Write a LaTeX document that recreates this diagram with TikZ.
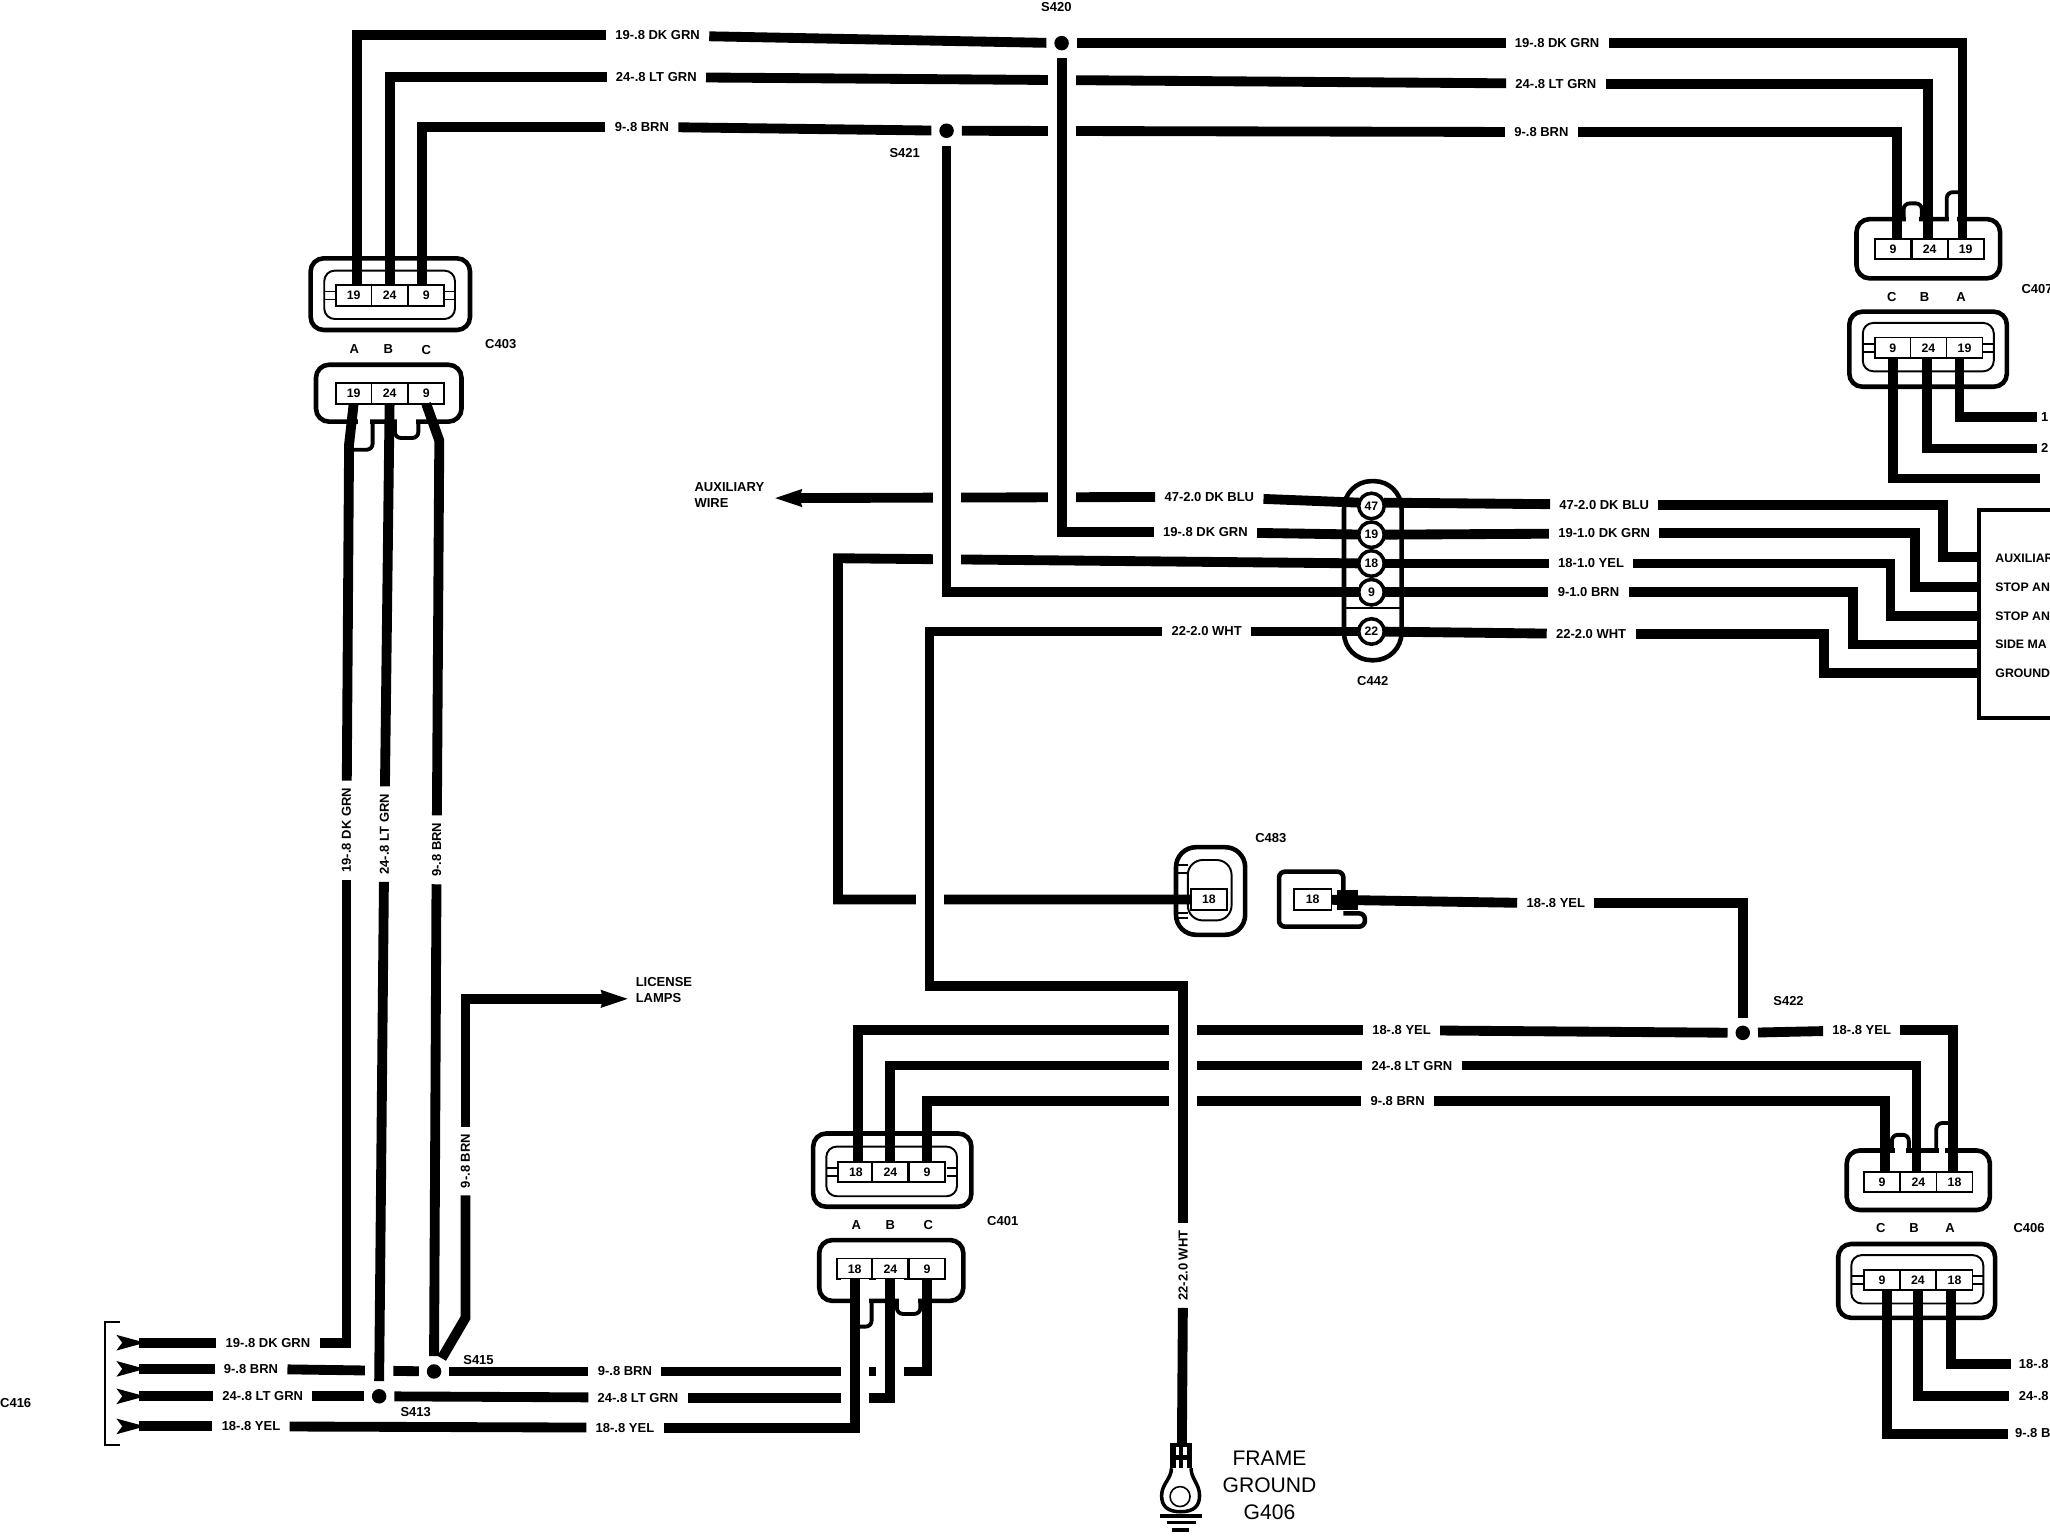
\documentclass[tikz,border=0pt]{standalone}
\usepackage{fontspec}
\setmainfont{Liberation Sans}
\usetikzlibrary{arrows.meta,positioning}
\newcommand{\labfont}{\fontsize{7.4}{9}\selectfont\bfseries}
\tikzset{
  wire/.style={line width=5.6pt},
  wirecross/.style={preaction={draw=white,line width=16pt}},
  wlabel/.style={font=\labfont,inner xsep=1.8mm,inner ysep=0.6mm},
  wlabelv/.style={wlabel,rotate=90,inner xsep=1.4mm},
  tagtext/.style={font=\labfont,inner sep=0pt},
  pincell/.style={draw,fill=white,line width=1pt,minimum width=7.2mm,minimum height=4.1mm,inner sep=0pt,outer sep=0pt,font=\fontsize{7}{8}\selectfont\bfseries},
  pinround/.style={circle,draw,fill=white,line width=2pt,minimum size=5.1mm,inner sep=0pt,outer sep=0pt,font=\fontsize{7}{8}\selectfont\bfseries},
  splice/.style={circle,fill=black,minimum size=2.9mm,inner sep=0pt,outer sep=1.6mm},
  shell/.style={line width=2.6pt,rounded corners=2.6mm},
  innershell/.style={line width=1.1pt,rounded corners=2.1mm},
  latch/.style={line width=2.2pt,rounded corners=1.2mm},
  leadhead/.style={-{Stealth[length=5.4mm,width=3.2mm,inset=0.3mm]}}
}
\begin{document}
\begin{tikzpicture}[x=0.26148mm,y=-0.26148mm]
\useasboundingbox (0,0) rectangle (1568,1174.85);

% pin cells of the three way connectors
\foreach \conn/\yy/\xa/\xb/\xc/\va/\vc in {c403u/226/270.5/298/326/19/9,c403l/301/270.5/298/326/19/9,
  c401u/896.5/654.7/681/709/18/9,c401l/970.5/653.7/681/709/18/9,
  c407u/190.5/1448/1476/1503.5/9/19,c407l/266/1447.7/1475/1502.6/9/19,
  c406u/904/1439.6/1467.4/1495/9/18,c406l/979/1439.6/1467/1495/9/18}{
  \foreach \n/\x/\v in {l/\xa/\va,m/\xb/24,r/\xc/\vc}{
    \node[pincell] (\conn-\n) at (\x,\yy) {\v};
  }
}
\foreach \n/\yy/\v in {47/387/47,19/409/19,18/431/18,9/453/9,22/483/22}{
  \node[pinround] (p\n) at (1049,\yy) {\v};
}
\node[pincell,minimum width=7.3mm] (c483a) at (924.7,688) {18};
\node[pincell,minimum width=7.5mm] (c483b) at (1004,688) {18};

% splices
\node[splice] (s420) at (812,33) {};
\node[splice] (s421) at (724,100) {};
\node[splice] (s422) at (1333,790) {};
\node[splice] (s413) at (290,1068) {};
\node[splice] (s415) at (332,1049) {};
\node[tagtext] (t420) at (808,5) {S420};
\node[tagtext] (t421) at (692,117) {S421};
\node[tagtext] (t422) at (1368,766) {S422};
\node[tagtext] (t413) at (318,1080) {S413};
\node[tagtext] (t415) at (366,1040) {S415};

% wire labels
\node[wlabel] (dkgTL) at (503,27) {19-.8 DK GRN};
\node[wlabel] (ltgTL) at (502,59) {24-.8 LT GRN};
\node[wlabel] (brnTL) at (491,97) {9-.8 BRN};
\node[wlabel] (dkgTR) at (1191,33) {19-.8 DK GRN};
\node[wlabel] (ltgTR) at (1190,64) {24-.8 LT GRN};
\node[wlabel] (brnTR) at (1179,101) {9-.8 BRN};
\node[wlabel] (bluL) at (925,380) {47-2.0 DK BLU};
\node[wlabel] (dkgL) at (922,407) {19-.8 DK GRN};
\node[wlabel] (whtL) at (923,483) {22-2.0 WHT};
\node[wlabel] (bluR) at (1227,386) {47-2.0 DK BLU};
\node[wlabel] (dkgR) at (1227,408) {19-1.0 DK GRN};
\node[wlabel] (yelR) at (1217,431) {18-1.0 YEL};
\node[wlabel] (brnR) at (1215,453) {9-1.0 BRN};
\node[wlabel] (whtR) at (1217,485) {22-2.0 WHT};
\node[wlabel] (yelP) at (1190,691) {18-.8 YEL};
\node[wlabel] (yelBL) at (1072,788) {18-.8 YEL};
\node[wlabel] (yelBR) at (1424,788) {18-.8 YEL};
\node[wlabel] (ltgB) at (1080,815) {24-.8 LT GRN};
\node[wlabel] (brnB) at (1069,842) {9-.8 BRN};
\node[wlabelv] (dkgV) at (265,635) {19-.8 DK GRN};
\node[wlabelv] (ltgV) at (294,638) {24-.8 LT GRN};
\node[wlabelv] (brnV) at (334,650) {9-.8 BRN};
\node[wlabelv] (brnW) at (356,888) {9-.8 BRN};
\node[wlabelv] (whtV) at (905,968) {22-2.0 WHT};
\node[wlabel] (dkgA) at (205,1027) {19-.8 DK GRN};
\node[wlabel] (brnA) at (192,1047) {9-.8 BRN};
\node[wlabel] (ltgA) at (201,1068) {24-.8 LT GRN};
\node[wlabel] (yelA) at (192,1091) {18-.8 YEL};
\node[wlabel] (brnM) at (478,1049) {9-.8 BRN};
\node[wlabel] (ltgM) at (488,1069) {24-.8 LT GRN};
\node[wlabel] (yelM) at (478,1092) {18-.8 YEL};

% free ends
\foreach \n/\yy in {a/1027,b/1047,c/1068,d/1091}{
  \coordinate (tail\n) at (106,\yy);
  \fill (89,\yy-6) -- (111,\yy) -- (89,\yy+6) -- (93.5,\yy) -- cycle;
}
\coordinate (auxend) at (592,381);
\coordinate (licend) at (481,764);
\coordinate (gndtop) at (904,1105);
\coordinate (yelbend) at (641,427);
\foreach \n/\yy in {a/426,b/449,c/471,d/493,e/515}{
  \coordinate (box\n) at (1514,\yy);
}
\coordinate (c407e1) at (1558,319);
\coordinate (c407e2) at (1558,343);
\coordinate (c407e3) at (1560,366);
\coordinate (c406e1) at (1538,1043);
\coordinate (c406e2) at (1537,1068);
\coordinate (c406e3) at (1536,1097);

% top bus
\draw[wire] ([xshift=0.65mm]c403u-l.north) |- (dkgTL);
\draw[wire] (dkgTL) -- (s420);
\draw[wire] (s420) -- (dkgTR);
\draw[wire] (dkgTR) -| ([xshift=-0.65mm]c407u-r.north);
\draw[wire] (c403u-m.north) |- (ltgTL);
\draw[wire] (ltgTL) -- (ltgTR);
\draw[wire] (ltgTR) -| ([xshift=-0.4mm]c407u-m.north);
\draw[wire] ([xshift=-0.8mm]c403u-r.north) |- (brnTL);
\draw[wire] (brnTL) -- (s421);
\draw[wire] (s421) -- (brnTR);
\draw[wire] (brnTR) -| ([xshift=0.8mm]c407u-l.north);

% middle
\draw[wire,leadhead] (bluL) -- (auxend);
\draw[wire] (bluL) -- (p47.165);
\draw[wire] (p18) -- (yelbend) |- (c483a);
\draw[wire,wirecross] (s420.south) |- (dkgL);
\draw[wire] (dkgL) -- (p19);
\draw[wire,wirecross] (s421.south) |- (p9);
\draw[wire] (p22) -- (whtL);

% C442 to the lamp box
\draw[wire] (p47.15) -- (bluR);
\draw[wire] (bluR) -| (1486,410) |- (boxa);
\draw[wire] (p19) -- (dkgR);
\draw[wire] (dkgR) -| (1465,430) |- (boxb);
\draw[wire] (p18) -- (yelR);
\draw[wire] (yelR) -| (1446,450) |- (boxc);
\draw[wire] (p9) -- (brnR);
\draw[wire] (brnR) -| (1417,470) |- (boxd);
\draw[wire] (p22) -- (whtR);
\draw[wire] (whtR) -| (1395,500) |- (boxe);

% lower bus
\draw[wire] ([xshift=0.34mm]c401u-l.north) |- (yelBL);
\draw[wire] (yelBL) -- (s422);
\draw[wire] (s422) -- (yelBR);
\draw[wire] (yelBR) -| ([xshift=-0.4mm]c406u-r.north);
\draw[wire] (c401u-m.north) |- (ltgB);
\draw[wire] (ltgB) -| ([xshift=-0.4mm]c406u-m.north);
\draw[wire] (c401u-r.north) |- (brnB);
\draw[wire] (brnB) -| ([xshift=0.6mm]c406u-l.north);
\draw[wire] (s422.north) |- (yelP);
\draw[wire] (yelP) -- (c483b);

% ground lead
\coordinate (whtbend) at (711,754);
\draw[wire,wirecross] (whtL) -| (whtbend) -| (whtV);
\draw[wire] (whtV) -- (gndtop);

% C407 and C406 leads
\draw[wire] ([xshift=-1mm]c407l-r.south) |- (c407e1);
\draw[wire] ([xshift=-0.26mm]c407l-m.south) |- (c407e2);
\draw[wire] (c407l-l.south) |- (c407e3);
\draw[wire] ([xshift=-0.8mm]c406l-r.south) |- (c406e1);
\draw[wire] (c406l-m.south) |- (c406e2);
\draw[wire] ([xshift=0.9mm]c406l-l.south) |- (c406e3);

% C416 branch
\draw[wire] (taila) -- (dkgA);
\draw[wire] (tailb) -- (brnA);
\draw[wire] (tailc) -- (ltgA);
\draw[wire] (taild) -- (yelA);
\draw[wire] (c403l-l.south) -- (267,340) -- (dkgV);
\draw[wire] (dkgV) |- (dkgA);
\draw[wire] (brnA) -- (s415);
\draw[wire] (c403l-m.south) -- (ltgV);
\draw[wire,wirecross] (ltgV) -- (s413.north);
\draw[wire] (c403l-r.south) -- (336,337) -- (brnV);
\draw[wire] (brnV) -- (s415.north);
\draw[wire] (ltgA) -- (s413);
\draw[wire] (yelA) -- (yelM);
\draw[wire] (s413) -- (ltgM);
\draw[wire] (s415) -- (brnM);
\draw[wire] (s415) -- (356,1008) -- (brnW);
\draw[wire,leadhead] (brnW) |- (licend);
\draw[wire] (brnM) -| (c401l-r.south);
\draw[wire,wirecross] (ltgM) -| (c401l-m.south);
\draw[wire,wirecross] (yelM) -| (c401l-l.south);

% connector shells with inner wall and side tabs
\foreach \xa/\ya/\xb/\yb/\xc/\yc/\xd/\yd/\xl/\xr/\yy in {
  237.6/197.6/359.5/252.4/248/207/348/244/257/340/226,
  622/867/743/923/632/877/732/915/641/724/896.5,
  1414.5/238.4/1535/295.8/1424.8/247/1525/284/1434/1516.5/266,
  1406/951.5/1526/1008/1416/960/1517/997/1426/1509/979}{
  \draw[shell] (\xa,\ya) rectangle (\xb,\yb);
  \draw[innershell] (\xc,\yc) rectangle (\xd,\yd);
  \foreach \dy in {-3,3}{
    \draw[line width=1pt] (\xc,\yy+\dy) -- (\xl,\yy+\dy);
    \draw[line width=1pt] (\xr,\yy+\dy) -- (\xd,\yy+\dy);
  }
}
% plain shells
\foreach \xa/\ya/\xb/\yb in {241.7/279/353/322.5,626.6/948.5/736.8/995,1420/167.6/1529.8/212.9,1412.5/880/1522/925.5}{
  \draw[shell] (\xa,\ya) rectangle (\xb,\yb);
}
% latches on the plain shells
\foreach \xa/\xb/\yy in {274/283/322.5,658/665/995,304/318/322.5,688/702/995,1458/1468/167.6,1491/1497/167.6,1449.5/1458/880,1483/1488/880}{
  \fill[white] (\xa,\yy-3) rectangle (\xb,\yy+3);
}
\draw[latch] (285,322.5) -- (285,344) -- (270,344);
\draw[latch] (302,322.5) -- (302,335) -- (320,335) -- (320,322.5);
\draw[latch] (666.7,995) -- (666.7,1014.7) -- (654,1014.7);
\draw[latch] (686,995) -- (686,1005) -- (704,1005) -- (704,995);
\draw[latch] (1456,167.6) -- (1456,155.6) -- (1470,155.6) -- (1470,167.6);
\draw[latch] (1489,167.6) -- (1489,147) -- (1501,147);
\draw[latch] (1447,880) -- (1447,868) -- (1460,868) -- (1460,880);
\draw[latch] (1481,880) -- (1481,859) -- (1493,859);

% C442 body
\draw[shell,rounded corners=5.5mm] (1028,368) rectangle (1072,505);
\draw[line width=1.6pt] (1028,465) -- (1072,465);

% C483 halves
\draw[shell,rounded corners=4mm] (899.5,648) rectangle (952.4,715);
\draw[innershell,rounded corners=3mm] (908.5,657.8) rectangle (942,704);
\foreach \yy in {661.6,668,698.6,702}{
  \draw[line width=1pt] (900,\yy) -- (908.5,\yy);
}
\draw[shell,rounded corners=1.2mm] (1027.5,681) -- (1027.5,666.7) -- (978.3,666.7) -- (978.3,708.8) -- (1044,708.8) -- (1044,698.6) -- (1027.5,698.6);
\fill (1023,681) rectangle (1039,696);

% lamp box
\draw[line width=2.2pt] (1568,390) -- (1514,390) -- (1514,549) -- (1568,549);

% C416 bracket
\draw[line width=1.2pt] (92,1011) -- (80,1011) -- (80,1105) -- (92,1105);

% ground lug
\fill (895,1104) rectangle (911.5,1123);
\foreach \xa/\xb/\ya/\yb in {899.5/902/1106.5/1112.8,905/907.6/1106.5/1112.8,899.5/902/1116.7/1123,905/907.6/1116.7/1123}{
  \fill[white] (\xa,\ya) rectangle (\xb,\yb);
}
\draw[line width=2pt] (896,1123) .. controls (896,1131) and (888.5,1135) .. (888.5,1144) .. controls (888.5,1152) and (893,1156.3) .. (903,1156.3) .. controls (913,1156.3) and (917.5,1152) .. (917.5,1144) .. controls (917.5,1135) and (911,1131) .. (911,1123);
\draw[line width=0.9pt] (902.6,1144.7) circle[radius=2mm];
\draw[line width=2.4pt] (887,1159.3) -- (919,1159.3);
\draw[line width=2.2pt] (892.4,1164.5) -- (915,1164.5);
\draw[line width=2.4pt] (896.6,1170) -- (909.5,1170);

% texts
\foreach \n/\x/\yy/\v in {a1/271/267/A,a2/297/267/B,a3/326/268/C,b1/655/937/A,b2/681/937/B,b3/710/937/C,
  c1/1447/227/C,c2/1472/227/B,c3/1500/227/A,d1/1438.5/939.5/C,d2/1464/939.5/B,d3/1491.5/939.5/A}{
  \node[tagtext] (pos\n) at (\x,\yy) {\v};
}
\node[tagtext] (c403) at (383,263) {C403};
\node[tagtext] (c401) at (767,934) {C401};
\node[tagtext,anchor=west] (c407) at (1546,221) {C407};
\node[tagtext] (c406) at (1552,939) {C406};
\node[tagtext] (c442) at (1050,521) {C442};
\node[tagtext] (c483) at (972,641) {C483};
\node[tagtext] (c416) at (12,1073) {C416};
\node[tagtext,align=left,anchor=west] (auxtext) at (531,378.5) {AUXILIARY\\WIRE};
\node[tagtext,align=left,anchor=west] (lictext) at (486,757.5) {LICENSE\\LAMPS};
\node[font=\fontsize{12}{15.5}\selectfont,align=center,inner sep=0pt] (frame) at (971,1136) {FRAME\\GROUND\\G406};
\foreach \n/\yy/\v in {a/427/AUXILIAR,b/449/STOP AN,c/471/STOP AN,d/493/SIDE MA,e/515/GROUND}{
  \node[font=\fontsize{7}{8}\selectfont\bfseries,inner sep=0pt,anchor=west] (boxt\n) at (1526,\yy) {\v};
}
\node[tagtext,anchor=west] (cut1) at (1561,319) {1};
\node[tagtext,anchor=west] (cut2) at (1561,343) {2};
\node[tagtext,anchor=west] (cut3) at (1544,1043) {18-.8};
\node[tagtext,anchor=west] (cut4) at (1544,1068) {24-.8};
\node[tagtext,anchor=west] (cut5) at (1541,1096) {9-.8 B};
\end{tikzpicture}
\end{document}
